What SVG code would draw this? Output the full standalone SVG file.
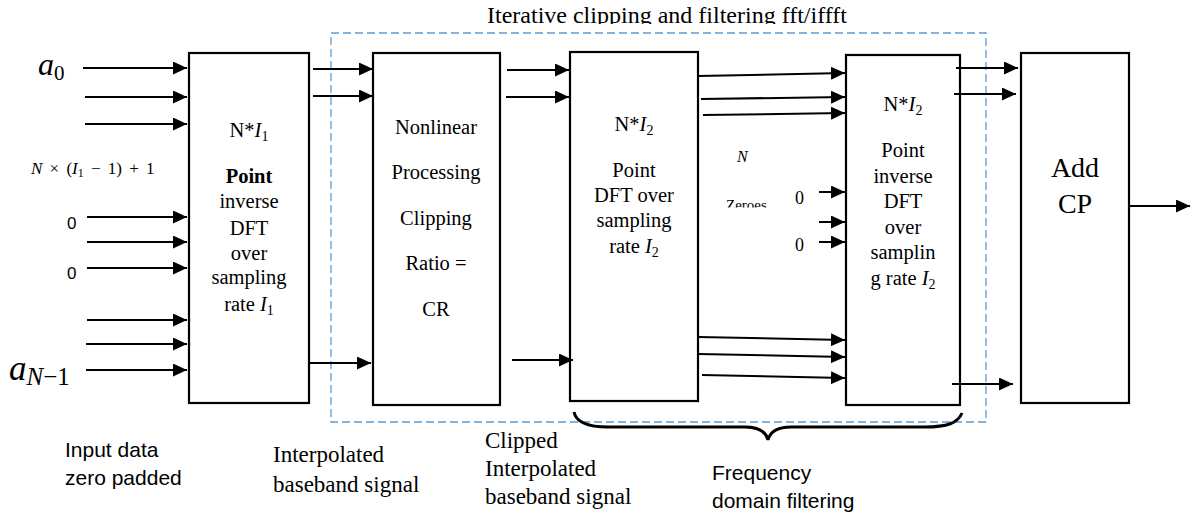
<svg xmlns="http://www.w3.org/2000/svg" width="1192" height="517" viewBox="0 0 1192 517">
<style>
.blk{fill:#fff;stroke:#000;stroke-width:2.2}
.bt{font-family:"Liberation Serif","Times New Roman",serif;font-size:20.5px;fill:#000;text-anchor:middle}
.big{font-size:28px}
.lab{font-family:"Liberation Serif","Times New Roman",serif;font-size:23px;fill:#000}
.sans{font-family:"Liberation Sans",Arial,sans-serif;font-size:21px;fill:#000}
.sm{font-size:17px}
.conn line{stroke:#000;stroke-width:2;marker-end:url(#ah)}
.it{font-style:italic}
</style>
<defs>
<marker id="ah" markerUnits="userSpaceOnUse" markerWidth="14" markerHeight="13" refX="14" refY="6.5" orient="auto">
<path d="M0,0 L14,6.5 L0,13 z" fill="#000"/>
</marker>
<clipPath id="titleclip"><rect x="0" y="0" width="1192" height="24"/></clipPath>
<clipPath id="zclip"><rect x="700" y="190" width="100" height="17.5"/></clipPath>
</defs>
<rect width="1192" height="517" fill="#fff"/>

<g id="iter-box">
<rect x="331" y="33" width="655" height="389" fill="none" stroke="#5B9BD5" stroke-width="1.3" stroke-dasharray="8 4"/>
<text x="667" y="23" class="lab" text-anchor="middle" textLength="360" lengthAdjust="spacingAndGlyphs" clip-path="url(#titleclip)">Iterative clipping and filtering fft/iffft</text>
</g>

<g id="inputs">
<text x="38" y="75" font-family="'Liberation Serif','Times New Roman',serif" font-size="32" fill="#000"><tspan class="it">a</tspan><tspan font-size="21" dy="5">0</tspan></text>
<text x="31" y="174" font-family="'Liberation Serif','Times New Roman',serif" font-size="17" fill="#000" word-spacing="3"><tspan class="it">N</tspan> × (<tspan class="it">I</tspan><tspan font-size="12" dy="3">1</tspan><tspan dy="-3"> − 1) + 1</tspan></text>
<text x="67" y="229" class="sans sm">0</text>
<text x="67" y="279" class="sans sm">0</text>
<text x="9" y="380" font-family="'Liberation Serif','Times New Roman',serif" font-size="35" fill="#000"><tspan class="it">a</tspan><tspan font-size="25" dy="5" class="it">N</tspan><tspan font-size="25">−1</tspan></text>
</g>

<g id="idft1">
<rect class="blk" x="189" y="53" width="120" height="350"/>
<text class="bt" x="249" y="137">N*<tspan class="it">I</tspan><tspan font-size="14" dy="4">1</tspan></text>
<text class="bt" x="249" y="183" font-weight="bold">Point</text>
<text class="bt" x="249" y="208">inverse</text>
<text class="bt" x="249" y="235">DFT</text>
<text class="bt" x="249" y="260">over</text>
<text class="bt" x="249" y="284">sampling</text>
<text class="bt" x="249" y="311">rate <tspan class="it">I</tspan><tspan font-size="14" dy="4">1</tspan></text>
</g>

<g id="clip">
<rect class="blk" x="373" y="53" width="127" height="352"/>
<text class="bt" x="436" y="134">Nonlinear</text>
<text class="bt" x="436" y="179">Processing</text>
<text class="bt" x="436" y="225">Clipping</text>
<text class="bt" x="436" y="270">Ratio =</text>
<text class="bt" x="436" y="316">CR</text>
</g>

<g id="dft2">
<rect class="blk" x="570" y="52" width="128" height="349"/>
<text class="bt" x="634" y="131">N*<tspan class="it">I</tspan><tspan font-size="14" dy="4">2</tspan></text>
<text class="bt" x="634" y="177">Point</text>
<text class="bt" x="634" y="202">DFT over</text>
<text class="bt" x="634" y="227">sampling</text>
<text class="bt" x="634" y="253">rate <tspan class="it">I</tspan><tspan font-size="14" dy="4">2</tspan></text>
</g>

<g id="zeros">
<text x="737" y="162" font-family="'Liberation Serif','Times New Roman',serif" font-size="16" font-style="italic" fill="#000">N</text>
<text x="726" y="210" font-family="'Liberation Serif','Times New Roman',serif" font-size="15" fill="#000" clip-path="url(#zclip)">Zeroes</text>
<text x="795" y="204" font-family="'Liberation Serif','Times New Roman',serif" font-size="18" fill="#000">0</text>
<text x="795" y="251" font-family="'Liberation Serif','Times New Roman',serif" font-size="18" fill="#000">0</text>
</g>

<g id="idft2">
<rect class="blk" x="846" y="55" width="114" height="350"/>
<text class="bt" x="903" y="111">N*<tspan class="it">I</tspan><tspan font-size="14" dy="4">2</tspan></text>
<text class="bt" x="903" y="157">Point</text>
<text class="bt" x="903" y="183">inverse</text>
<text class="bt" x="903" y="208">DFT</text>
<text class="bt" x="903" y="234">over</text>
<text class="bt" x="903" y="259">samplin</text>
<text class="bt" x="903" y="285">g rate <tspan class="it">I</tspan><tspan font-size="14" dy="4">2</tspan></text>
</g>

<g id="addcp">
<rect class="blk" x="1021" y="53" width="108" height="350"/>
<text class="bt big" x="1075" y="177">Add</text>
<text class="bt big" x="1075" y="213">CP</text>
</g>

<g class="conn" id="connectors">
<line x1="83" y1="68" x2="187" y2="68"/>
<line x1="85" y1="97" x2="187" y2="97"/>
<line x1="85" y1="124" x2="187" y2="124"/>
<line x1="87" y1="217" x2="187" y2="217"/>
<line x1="87" y1="242" x2="187" y2="242"/>
<line x1="87" y1="268" x2="187" y2="268"/>
<line x1="87" y1="320" x2="187" y2="320"/>
<line x1="86" y1="344" x2="187" y2="344"/>
<line x1="86" y1="370" x2="187" y2="370"/>

<line x1="313" y1="69" x2="373" y2="69"/>
<line x1="313" y1="96" x2="373" y2="96"/>
<line x1="310" y1="363" x2="371" y2="363"/>

<line x1="507" y1="70" x2="569" y2="70"/>
<line x1="506" y1="97" x2="569" y2="97"/>
<line x1="512" y1="360" x2="573" y2="360"/>

<line x1="698" y1="76" x2="845" y2="73"/>
<line x1="701" y1="99" x2="845" y2="97"/>
<line x1="703" y1="115" x2="845" y2="113"/>
<line x1="819" y1="192" x2="845" y2="192"/>
<line x1="819" y1="222" x2="845" y2="222"/>
<line x1="819" y1="242" x2="845" y2="242"/>
<line x1="698" y1="337" x2="845" y2="340"/>
<line x1="698" y1="354" x2="845" y2="357"/>
<line x1="702" y1="375" x2="845" y2="378"/>

<line x1="956" y1="68" x2="1018" y2="68"/>
<line x1="954" y1="94" x2="1016" y2="94"/>
<line x1="952" y1="384" x2="1013" y2="384"/>

<line x1="1129" y1="206" x2="1190" y2="206"/>
</g>

<g id="brace">
<path d="M574,412 C576,422 586,427 608,427 L745,427 C760,427 766,432 768,440 C770,432 776,427 791,427 L925,427 C947,427 958,423 962,413" fill="none" stroke="#000" stroke-width="3"/>
</g>

<g id="labels">
<text class="sans" x="65" y="457">Input data</text>
<text class="sans" x="65" y="485">zero padded</text>
<text class="lab" x="273" y="462">Interpolated</text>
<text class="lab" x="273" y="492">baseband signal</text>
<text class="lab" x="485" y="448">Clipped</text>
<text class="lab" x="485" y="476">Interpolated</text>
<text class="lab" x="485" y="504">baseband signal</text>
<text class="sans" x="712" y="480">Frequency</text>
<text class="sans" x="712" y="508">domain filtering</text>
</g>
</svg>
